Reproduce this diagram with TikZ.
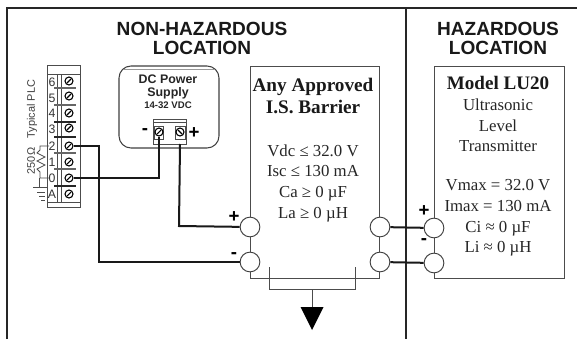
\documentclass[tikz,border=0pt]{standalone}
\usepackage{fontspec}
\usetikzlibrary{calc}
\setmainfont{Liberation Serif}
\setsansfont{Liberation Sans}
\tikzset{x=0.75pt,y=-0.75pt,
 thinl/.style={draw=black!70,line width=0.7pt},
 wire/.style={draw=black!90,line width=1.5pt},
 frame/.style={draw=black!85,line width=1.5pt},
 term/.style={circle,draw=black!75,line width=0.7pt,fill=white,minimum size=14.8pt,inner sep=0pt},
 screw/.style={circle,draw=black,line width=0.8pt,fill=white,minimum size=6pt,inner sep=0pt},
 head/.style={font=\sffamily\bfseries\fontsize{14.3pt}{14.2pt}\selectfont,align=center,inner sep=0pt,text=black!90},
 body/.style={font=\fontsize{12.6pt}{15.5pt}\selectfont,text=black!85,inner sep=0pt,align=center},
 plab/.style={font=\sffamily\fontsize{8.2pt}{8pt}\selectfont,text=black!75,inner sep=0pt},
 num/.style={font=\sffamily\fontsize{9.2pt}{9pt}\selectfont,text=black!80,inner sep=0pt},
 sign/.style={font=\sffamily\bfseries\fontsize{14pt}{14pt}\selectfont,inner sep=0pt}}
\begin{document}
\begin{tikzpicture}
\useasboundingbox (0,0) rectangle (577,339);
\fill[white] (0,0) rectangle (577,339);
% frame
\coordinate (fl) at (7,339); \coordinate (ftl) at (7,8); \coordinate (ftr) at (577,8);
\coordinate (dt) at (406,8); \coordinate (db) at (406,339);
\draw[frame] (fl) -- (ftl) -- (ftr);
\draw[frame] (dt) -- (db);
\node[head] (nh) at (202,38) {NON-HAZARDOUS\\LOCATION};
\node[head] (hz) at (498,38) {HAZARDOUS\\LOCATION};
% PLC block
\draw[thinl] (47,65) rectangle (80,207);
\draw[thinl] (47,74) -- (80,74) (47,202) -- (80,202);
\draw[thinl] (57,74) -- (57,202) (61,74) -- (61,202);
\foreach \y in {88,105,153,169}{
  \draw[draw=black!60,line width=1.3pt] (54,\y) -- (76,\y);}
\foreach \y in {122,137,186}{
  \draw[draw=black!85,line width=0.9pt] (54,\y) -- (76,\y);}
\foreach \y/\l in {82/6,98/5,113/4,129/3,146/2,162/1,178/0,194/A}{
  \node[num] at (52,\y) {\l};}
\foreach \n/\y in {s6/81,s5/96,s4/113,s3/128,s2/146,s1/162,s0/178,sa/194}{
  \node[screw] (\n) at (69,\y) {};
  \draw[line width=0.8pt] ($(\n)+(-2,2)$) -- ($(\n)+(2,-2)$);}
\node[plab,rotate=90] (tp) at (32,109) {Typical PLC};
\node[plab,rotate=90] (r) at (31,161) {250Ω};
% resistor and ground
\coordinate (r2) at (49,146); \coordinate (r0) at (49,178);
\draw[thinl,line width=0.6pt] (r2) -- (40,146) -- (40,150) -- (37,153) -- (45,157) -- (37,161) -- (45,165) -- (37,169) -- (40,172) -- (40,178) -- (r0);
\draw[thinl,line width=0.6pt] (39,178) -- (39,187);
\draw[thinl,line width=0.6pt] (33,187) -- (47,187) (37,192) -- (45,192) (39,196) -- (45,196) (41,200) -- (45,200);
% power supply
\draw[draw=black!75,line width=0.8pt,rounded corners=9pt] (119,66) rectangle (219,148);
\draw[black!40,line width=0.5pt] (124,69) -- (215,69);
\node[font=\sffamily\bfseries\fontsize{9.3pt}{9.2pt}\selectfont,align=center,inner sep=0pt,text=black!85] (ps) at (168,87) {DC Power\\Supply};
\node[font=\sffamily\bfseries\fontsize{7.2pt}{7pt}\selectfont,inner sep=0pt,text=black!85] (v) at (168,105) {14-32 VDC};
\draw[thinl] (153,119) rectangle (186,144);
\draw[thinl] (153,122) -- (186,122);
\draw[thinl] (154,126) rectangle (163,139) (175,126) rectangle (185,139);
\node[screw] (pm) at (159,132) {};
\node[screw] (pp) at (180,132) {};
\draw[line width=0.8pt] ($(pm)+(-2,2)$) -- ($(pm)+(2,-2)$) ($(pp)+(-2,-2)$) -- ($(pp)+(2,2)$);
\node[sign] at (145,132) {-};
\node[sign] at (194,133) {+};
% barrier
\coordinate (bl) at (250,278); \coordinate (br) at (379,278);
\draw[thinl] (250,66) -- (bl) -- (br) -- (379,66) -- cycle;
\node[term] (a) at (250,227) {};
\node[term] (b) at (250,262) {};
\node[term] (c) at (380,227) {};
\node[term] (d) at (380,262) {};
\node[font=\bfseries\fontsize{14.4pt}{17pt}\selectfont,align=center,inner sep=0pt,text=black!90] (bt) at (313,96) {Any Approved\\I.S. Barrier};
\node[body] (bb) at (313,183) {Vdc ≤ 32.0 V\\Isc ≤ 130 mA\\Ca ≥ 0 µF\\La ≥ 0 µH};
% ground bracket
\coordinate (g1) at (269,267); \coordinate (g2) at (355,267); \coordinate (gs) at (312,289); \coordinate (tt) at (312,307);
\draw[thinl] (g1) -- (269,289) -- (355,289) -- (g2);
\draw[thinl] (gs) -- (tt);
\fill[black] (300.5,307) -- (323.5,307) -- (312,330) -- cycle;
% LU20
\draw[thinl] (434,66) -- (564,66) -- (564,278) -- (434,278) -- cycle;
\node[term] (e) at (434,228) {};
\node[term] (f) at (434,263) {};
\node[font=\bfseries\fontsize{14.3pt}{16pt}\selectfont,inner sep=0pt,text=black!90] (lt) at (498,83) {Model LU20};
\node[body] (lb) at (498,125.5) {Ultrasonic\\Level\\Transmitter};
\node[body] (lc) at (498,218) {Vmax = 32.0 V\\Imax = 130 mA\\Ci ≈ 0 µF\\Li ≈ 0 µH};
% wires
\draw[wire] (s2) -- (99,146) -- (99,262) -- (b);
\draw[wire] (s0) -- (159,178) -- (pm);
\draw[wire] (pp) ++(0,12) -- (179,226) -- (a);
\draw[wire] (c) -- (e);
\draw[wire] (d) -- (f);
\node[sign] at (234,217) {+};
\node[sign] at (234,256) {-};
\node[sign] at (424,211) {+};
\node[sign] at (424,242) {-};
\end{tikzpicture}
\end{document}
